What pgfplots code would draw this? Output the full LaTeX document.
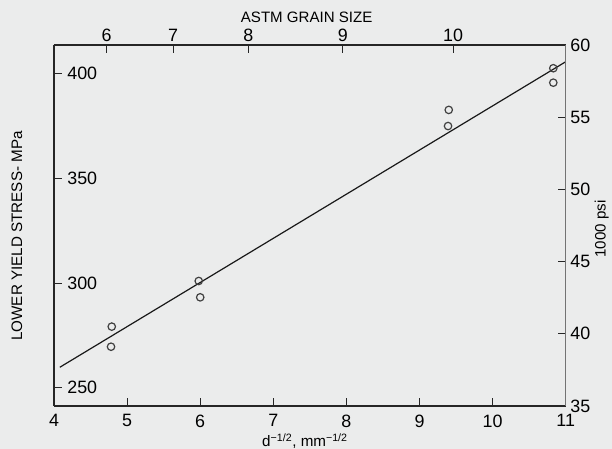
\documentclass[border=0pt]{standalone}
\usepackage{pgfplots}
\pgfplotsset{compat=1.18}
\usepackage{fontspec}
\setmainfont{Liberation Sans}
\definecolor{bg}{RGB}{235,236,236}

\begin{document}
\begin{tikzpicture}
\fill[bg] (0pt,0pt) rectangle (459pt,336.75pt);
\path[use as bounding box] (0pt,0pt) rectangle (459pt,336.75pt);

\pgfplotsset{every axis/.append style={
    scale only axis,
    width=383.8pt, height=270.75pt,
    at={(40.5pt,32.25pt)}, anchor=south west,
    xmin=4, xmax=11,
    tick align=inside,
    major tick length=6pt,
    tick style={black!85, line width=0.8pt},
    /pgf/number format/assume math mode=true,
    ticklabel style={font=\fontsize{13.4}{15}\selectfont},
}}

% main axis: MPa vs d^-1/2
\begin{axis}[
    axis x line*=bottom, axis y line*=left,
    axis line style={black!85, line width=1.1pt},
    ymin=241.3, ymax=413.7,
    xtick={4,5,...,11},
    ytick={250,300,350,400},
    yticklabel style={anchor=west, xshift=6.5pt},
    xticklabel style={yshift=-3pt},
    xlabel={d\textsuperscript{−1/2}, mm\textsuperscript{−1/2}},
    ylabel={LOWER YIELD STRESS- MPa},
    every axis x label/.style={at={(rel axis cs:0.4905,-0.097)}, anchor=center, font=\fontsize{11.4}{13}\selectfont},
    every axis y label/.style={at={(rel axis cs:-0.0723,0.471)}, anchor=center, rotate=90, font=\fontsize{11.4}{13}\selectfont},
]
\addplot[no marks, line width=0.9pt, black!90] coordinates {(4.08,259.8) (11.0,405.7)};
\addplot[only marks, mark=o, mark size=2.8pt, mark options={line width=0.9pt, black!75}] coordinates {
    (4.79,279.2) (4.78,269.6)
    (5.98,301.0) (6.00,293.2)
    (9.40,382.7) (9.39,375.0)
    (10.83,402.6) (10.83,395.7)
};
\node[anchor=north east, inner sep=0pt, xshift=-2.5pt, font=\fontsize{13.4}{15}\selectfont] at (rel axis cs:0,1) {60};
\end{axis}

% secondary axes: 1000 psi and ASTM grain size
\begin{axis}[
    axis x line*=top, axis y line*=right,
    x axis line style={black!85, line width=1.1pt},
    y axis line style={black!55, line width=0.7pt},
    ymin=35, ymax=60,
    ytick={35,40,...,60},
    xtick={4.72,5.63,6.66,7.95,9.46},
    xticklabels={6,7,8,9,10},
    xticklabel style={yshift=-1pt},
    xlabel={ASTM GRAIN SIZE},
    ylabel={1000 psi},
    every axis x label/.style={at={(rel axis cs:0.4937,1.076)}, anchor=center, font=\fontsize{11.3}{13}\selectfont},
    every axis y label/.style={at={(rel axis cs:1.0704,0.490)}, anchor=center, rotate=90, font=\fontsize{11.3}{13}\selectfont},
]
\end{axis}
\end{tikzpicture}
\end{document}
